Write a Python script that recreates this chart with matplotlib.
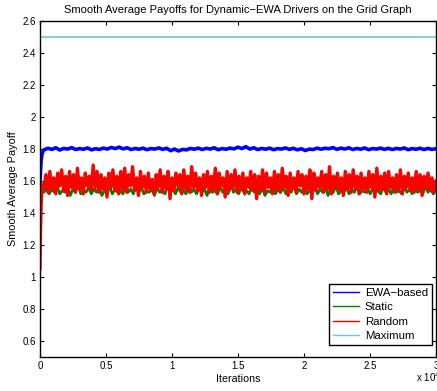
import numpy as np
import matplotlib
matplotlib.use("Agg")
import matplotlib.pyplot as plt

plt.rcParams['font.family'] = ['Liberation Sans', 'DejaVu Sans']

# start-up transient (iteration, payoff)
ewa_start_x = [0, 40, 90, 160, 250]
ewa_start_y = [1.56, 1.66, 1.73, 1.77, 1.79]
static_start_x = [0, 80, 160, 250]
static_start_y = [1.61, 1.59, 1.56, 1.54]
random_start_x = [0, 40, 90, 150, 250]
random_start_y = [1.05, 1.28, 1.45, 1.55, 1.58]

# steady part, sampled evenly from 300 to 30000 iterations
ewa_vals = [
    1.795, 1.805, 1.798, 1.808, 1.794, 1.804, 1.800, 1.809, 1.797, 1.803,
    1.799, 1.807, 1.795, 1.802, 1.798, 1.806, 1.800, 1.810, 1.803, 1.812,
    1.801, 1.808, 1.797, 1.804, 1.799, 1.806, 1.796, 1.803, 1.800, 1.807,
    1.798, 1.805, 1.790, 1.800, 1.788, 1.798, 1.795, 1.804, 1.799, 1.806,
    1.797, 1.805, 1.800, 1.808, 1.796, 1.803, 1.799, 1.806, 1.801, 1.812,
    1.803, 1.815, 1.800, 1.808, 1.797, 1.804, 1.799, 1.806, 1.796, 1.803,
    1.800, 1.807, 1.798, 1.805, 1.795, 1.802, 1.791, 1.800, 1.797, 1.806,
    1.799, 1.805, 1.802, 1.809, 1.798, 1.806, 1.800, 1.808, 1.797, 1.804,
    1.799, 1.807, 1.796, 1.803, 1.800, 1.806, 1.798, 1.805, 1.797, 1.804,
    1.800, 1.807, 1.796, 1.803, 1.799, 1.805, 1.797, 1.804, 1.798, 1.802,
]
static_vals = [
    1.53, 1.56, 1.52, 1.55, 1.53, 1.57, 1.52, 1.54, 1.53, 1.56,
    1.51, 1.55, 1.53, 1.58, 1.52, 1.54, 1.53, 1.56, 1.52, 1.55,
    1.53, 1.57, 1.51, 1.54, 1.53, 1.56, 1.52, 1.55, 1.53, 1.54,
    1.52, 1.57, 1.53, 1.55, 1.52, 1.59, 1.53, 1.56, 1.52, 1.54,
    1.53, 1.55, 1.51, 1.56, 1.53, 1.54, 1.52, 1.57, 1.53, 1.55,
    1.52, 1.56, 1.53, 1.54, 1.52, 1.58, 1.53, 1.55, 1.52, 1.56,
    1.53, 1.55, 1.51, 1.57, 1.53, 1.54, 1.52, 1.56, 1.53, 1.55,
    1.52, 1.59, 1.53, 1.55, 1.52, 1.56, 1.53, 1.54, 1.52, 1.57,
    1.53, 1.55, 1.52, 1.56, 1.51, 1.54, 1.53, 1.57, 1.52, 1.55,
    1.53, 1.56, 1.52, 1.54, 1.53, 1.58, 1.52, 1.55, 1.53, 1.56,
    1.52, 1.54, 1.53, 1.57, 1.52, 1.55, 1.53, 1.56, 1.51, 1.55,
    1.53, 1.57, 1.52, 1.54, 1.53, 1.56, 1.52, 1.55, 1.53, 1.57,
    1.52, 1.54, 1.53, 1.56, 1.52, 1.55, 1.53, 1.54, 1.52, 1.56,
    1.53, 1.55, 1.52, 1.57, 1.53, 1.54, 1.52, 1.56, 1.53, 1.55,
    1.52, 1.56, 1.53, 1.54, 1.52, 1.57, 1.53, 1.55, 1.52, 1.54,
]
random_vals = [
    1.56, 1.64, 1.53, 1.66, 1.55, 1.62, 1.52, 1.65, 1.57, 1.67, 1.54, 1.63, 1.51, 1.66, 1.56, 1.64, 1.53, 1.68, 1.55, 1.62,
    1.52, 1.65, 1.57, 1.63, 1.54, 1.70, 1.56, 1.66, 1.53, 1.64, 1.55, 1.62, 1.50, 1.65, 1.56, 1.67, 1.54, 1.63, 1.52, 1.66,
    1.55, 1.68, 1.53, 1.64, 1.57, 1.69, 1.54, 1.62, 1.51, 1.66, 1.56, 1.63, 1.53, 1.65, 1.55, 1.61, 1.52, 1.64, 1.56, 1.67,
    1.53, 1.63, 1.55, 1.66, 1.49, 1.62, 1.54, 1.65, 1.57, 1.64, 1.52, 1.67, 1.55, 1.63, 1.53, 1.69, 1.56, 1.65, 1.54, 1.62,
    1.51, 1.64, 1.56, 1.66, 1.53, 1.63, 1.55, 1.68, 1.52, 1.65, 1.57, 1.62, 1.50, 1.66, 1.54, 1.64, 1.56, 1.67, 1.53, 1.63,
    1.55, 1.65, 1.52, 1.62, 1.56, 1.66, 1.54, 1.64, 1.49, 1.63, 1.55, 1.67, 1.53, 1.65, 1.56, 1.62, 1.52, 1.66, 1.55, 1.64,
    1.53, 1.68, 1.56, 1.63, 1.51, 1.65, 1.55, 1.62, 1.53, 1.66, 1.57, 1.64, 1.52, 1.63, 1.55, 1.67, 1.49, 1.65, 1.54, 1.62,
    1.56, 1.66, 1.53, 1.64, 1.55, 1.69, 1.52, 1.63, 1.56, 1.65, 1.54, 1.62, 1.51, 1.66, 1.55, 1.64, 1.53, 1.67, 1.56, 1.63,
    1.52, 1.65, 1.55, 1.62, 1.53, 1.66, 1.56, 1.64, 1.50, 1.68, 1.54, 1.63, 1.55, 1.65, 1.52, 1.66, 1.56, 1.62, 1.53, 1.64,
    1.55, 1.67, 1.52, 1.63, 1.56, 1.65, 1.54, 1.62, 1.53, 1.66, 1.55, 1.64, 1.51, 1.63, 1.56, 1.65, 1.54, 1.62, 1.53, 1.60,
]
max_payoff = 2.5

labels = ['EWA\u2212based', 'Static', 'Random', 'Maximum']
colors = ['#0000ff', '#008000', '#ff0000', '#66cccc']
x_ticks = [0, 0.5, 1, 1.5, 2, 2.5, 3]
y_ticks = [0.6, 0.8, 1, 1.2, 1.4, 1.6, 1.8, 2, 2.2, 2.4, 2.6]


def series(start_x, start_y, vals):
    xs = np.concatenate([start_x, np.linspace(300, 30000, len(vals))])
    ys = np.concatenate([start_y, vals])
    return xs / 1e4, ys


fig = plt.figure(figsize=(4.37, 3.91), dpi=100)
ax = fig.add_axes([0.0915, 0.087, 0.906, 0.859])

x, y = series(ewa_start_x, ewa_start_y, ewa_vals)
ax.plot(x, y, color=colors[0], lw=2.6)
x, y = series(static_start_x, static_start_y, static_vals)
ax.plot(x, y, color=colors[1], lw=2.0)
x, y = series(random_start_x, random_start_y, random_vals)
ax.plot(x, y, color=colors[2], lw=2.4)
ax.plot([0, 3], [max_payoff, max_payoff], color=colors[3], lw=1.2)

handles = [plt.Line2D([], [], color=c, lw=1) for c in colors]
leg = ax.legend(handles, labels, loc='lower right', bbox_to_anchor=(0.99, 0.036),
                fontsize=8.2, frameon=True, fancybox=False, edgecolor='black',
                framealpha=1, borderaxespad=0, handlelength=2.3, labelspacing=0.38,
                borderpad=0.35, handletextpad=0.5)
leg.get_frame().set_linewidth(1.0)

ax.set_xlim(0, 3)
ax.set_ylim(0.5, 2.6)
ax.set_xticks(x_ticks)
ax.set_xticklabels(['0', '0.5', '1', '1.5', '2', '2.5', '3'])
ax.set_yticks(y_ticks)
ax.set_yticklabels(['0.6', '0.8', '1', '1.2', '1.4', '1.6', '1.8', '2', '2.2', '2.4', '2.6'])
ax.tick_params(direction='in', top=True, right=True, labelsize=7, length=3, width=0.8, pad=3)
for s in ax.spines.values():
    s.set_linewidth(1.0)

ax.set_title('Smooth Average Payoffs for Dynamic\u2212EWA Drivers on the Grid Graph', fontsize=8.05, pad=6)
ax.set_xlabel('Iterations', fontsize=7.7, labelpad=2)
ax.set_ylabel('Smooth Average Payoff', fontsize=7.8, labelpad=3)
fig.text(0.952, 0.024, r'x 10$^4$', fontsize=7)

fig.savefig('out.png', dpi=100)
